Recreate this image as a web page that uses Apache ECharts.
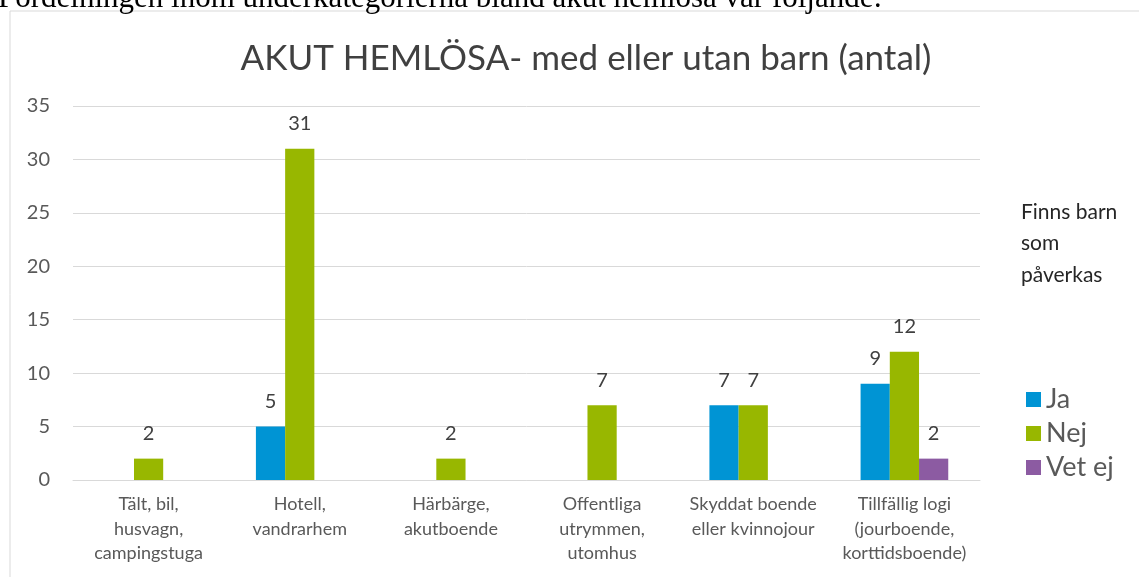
<!DOCTYPE html>
<html>
<head>
<meta charset="utf-8">
<script src="https://cdn.jsdelivr.net/npm/echarts@6/dist/echarts.min.js"></script>
<style>
  html, body { margin: 0; padding: 0; background: #fff; }
  #chart { width: 1139px; height: 577px; }
</style>
</head>
<body>
<div id="chart"></div>
<script>
// kategorier och värden
const categories = [
  'Tält, bil,\nhusvagn,\ncampingstuga',
  'Hotell,\nvandrarhem',
  'Härbärge,\nakutboende',
  'Offentliga\nutrymmen,\nutomhus',
  'Skyddat boende\neller kvinnojour',
  'Tillfällig logi\n(jourboende,\nkorttidsboende)'
]
const seriesNames = ['Ja', 'Nej', 'Vet ej']
const jaValues = [null, 5, null, null, 7, 9]
const nejValues = [2, 31, 2, 7, 7, 12]
const vetEjValues = [null, null, null, null, null, 2]
const yTicks = [0, 5, 10, 15, 20, 25, 30, 35]

const colors = ['#0094D4', '#98B700', '#8C5BA2']
const font = 'Lato, "Open Sans", sans-serif'

const chart = echarts.init(document.getElementById('chart'))

const mkSeries = (name, data, i) => ({
  name: name,
  type: 'bar',
  data: data,
  barGap: '0%',
  barCategoryGap: '42%',
  itemStyle: { color: colors[i] },
  label: {
    show: true,
    position: 'top',
    distance: 15,
    color: '#404040',
    fontFamily: font,
    fontSize: 20
  }
})

const option = {
  animation: false,
  textStyle: { fontFamily: font },
  title: {
    text: 'AKUT HEMLÖSA- med eller utan barn (antal)',
    left: 581,
    top: 36,
    textAlign: 'center',
    textStyle: { fontSize: 35, fontWeight: 'normal', color: '#404040', fontFamily: font }
  },
  grid: { left: 73, right: 159, top: 106, bottom: 97 },
  legend: {
    data: seriesNames,
    orient: 'vertical',
    left: 1021,
    top: 381,
    itemWidth: 15,
    itemHeight: 15,
    itemGap: 7,
    icon: 'rect',
    textStyle: { fontSize: 27, lineHeight: 25, color: '#595959', fontFamily: font }
  },
  xAxis: {
    type: 'category',
    data: categories,
    axisLine: { lineStyle: { color: '#d9d9d9', width: 1 } },
    axisTick: { show: false },
    axisLabel: {
      interval: 0,
      margin: 12,
      fontSize: 18,
      lineHeight: 24.5,
      color: '#595959',
      fontFamily: font
    }
  },
  yAxis: {
    type: 'value',
    min: yTicks[0],
    max: yTicks[yTicks.length - 1],
    interval: 5,
    axisLine: { show: false },
    axisTick: { show: false },
    splitLine: { lineStyle: { color: '#d9d9d9', width: 1 } },
    axisLabel: { fontSize: 20, color: '#595959', margin: 23, fontFamily: font }
  },
  graphic: [
    {
      type: 'rect',
      shape: { x: 10, y: 11, width: 1140, height: 580 },
      style: { fill: 'none', stroke: '#d9d9d9', lineWidth: 1 },
      silent: true,
      z: -1
    },
    {
      type: 'text',
      x: -2,
      y: 14,
      style: {
        text: 'Fördelningen inom underkategorierna bland akut hemlösa var följande:',
        fontFamily: '"Liberation Serif", "DejaVu Serif", serif',
        fontSize: 31,
        verticalAlign: 'bottom',
        fill: '#000'
      }
    },
    {
      type: 'text',
      left: 1021,
      top: 196,
      style: {
        text: 'Finns barn\nsom\npåverkas',
        fontFamily: font,
        fontSize: 21,
        lineHeight: 31.5,
        fill: '#262626'
      }
    }
  ],
  series: [
    mkSeries(seriesNames[0], jaValues, 0),
    mkSeries(seriesNames[1], nejValues, 1),
    mkSeries(seriesNames[2], vetEjValues, 2)
  ]
}

chart.setOption(option)
</script>
</body>
</html>
